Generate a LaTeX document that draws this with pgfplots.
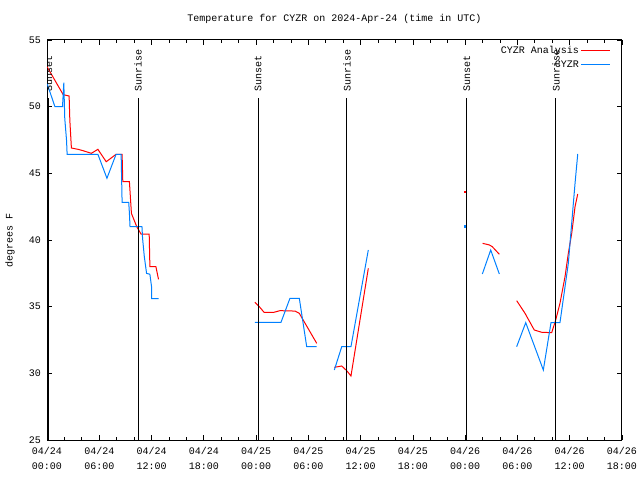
\documentclass[border=0pt]{standalone}
\usepackage{pgfplots}
\pgfplotsset{compat=1.18}
\usepackage{fontspec}
\setmainfont{Liberation Mono}
\definecolor{gpred}{RGB}{255,0,0}
\definecolor{gpblue}{RGB}{0,128,255}
\begin{document}
\begin{tikzpicture}[x=1pt,y=1pt]
\useasboundingbox (0,0) rectangle (640,480);
\begin{axis}[
  at={(47pt,40pt)}, anchor=south west,
  scale only axis, width=575pt, height=400pt,
  xmin=0, xmax=66, ymin=25, ymax=55,
  xtick={0,6,...,66},
  xticklabels={{04/24\\00:00},{04/24\\06:00},{04/24\\12:00},{04/24\\18:00},{04/25\\00:00},{04/25\\06:00},{04/25\\12:00},{04/25\\18:00},{04/26\\00:00},{04/26\\06:00},{04/26\\12:00},{04/26\\18:00}},
  minor x tick num=2,
  ytick={25,30,...,55},
  tick align=inside,
  major tick length=5pt, minor tick length=3pt,
  tick style={black, line width=0.8pt},
  axis line style={line width=1pt},
  xticklabel style={align=center, font=\fontsize{10}{14.5}\selectfont, inner sep=0pt, yshift=-7.5pt},
  yticklabel style={font=\fontsize{10}{12}\selectfont, inner sep=0pt, xshift=-6pt},
  /pgf/number format/assume math mode=true,
  unbounded coords=jump,
  legend style={at={(1,1)}, anchor=north east, draw=none, fill=none, xshift=-11pt, yshift=-4pt, font=\fontsize{10}{12}\selectfont, row sep=1.5pt, inner sep=0pt},
  legend cell align=right,
  legend plot pos=right,
  legend image code/.code={\draw[#1] (3pt,0pt) -- (32pt,0pt);},
]
\addplot[gpred, line width=1pt] coordinates {
(0,53.0) (1.86,50.9) (2.54,50.8) (2.62,49.0) (2.80,46.9) (3.57,46.8) (4.13,46.7) (5.09,46.5) (5.84,46.8) (6.80,45.87) (7.93,46.43) (8.62,46.43) (8.70,44.37) (9.46,44.37) (9.69,42.0) (10.30,41.0) (10.79,40.45) (11.73,40.45) (11.81,38.0) (12.50,38.0) (12.80,37.05)
(12.9,nan)
(23.87,35.33) (24.37,35.0) (24.91,34.58) (26.06,34.58) (26.74,34.7) (28.47,34.67) (28.96,34.5) (30.96,32.25)
(31.5,nan)
(32.98,30.45) (33.83,30.55) (34.40,30.2) (34.89,29.8) (36.88,37.87)
(40,nan)
(50.0,39.75) (50.77,39.63) (51.11,39.5) (51.92,38.93)
(52.5,nan)
(53.91,35.45) (54.87,34.5) (55.93,33.25) (56.78,33.08) (57.93,33.05) (58.39,34.0) (58.88,35.25) (59.46,37.25) (59.84,39.0) (60.23,40.5) (60.61,42.5) (60.92,43.45)
};
\addlegendentry{CYZR Analysis}
\addplot[gpblue, line width=1pt] coordinates {
(0,51.75) (0.91,50.0) (1.78,50.0) (1.93,51.8) (2.04,49.1) (2.24,47.5) (2.31,46.43) (5.84,46.43) (6.88,44.63) (7.93,46.43) (8.51,46.43) (8.62,42.83) (9.38,42.83) (9.46,42.0) (9.53,41.0) (10.90,41.0) (10.97,40.13) (11.17,38.75) (11.43,37.5) (11.81,37.43) (12.0,36.5) (12.0,35.6) (12.80,35.6)
(12.9,nan)
(23.87,33.83) (26.86,33.83) (27.89,35.63) (28.96,35.63) (29.81,32.0) (30.96,32.0)
(31.5,nan)
(32.98,30.25) (33.83,32.0) (34.89,32.0) (36.88,39.25)
(40,nan)
(49.97,37.45) (50.93,39.25) (51.92,37.45)
(52.5,nan)
(53.91,32.0) (54.95,33.8) (56.97,30.25) (57.85,33.8) (58.88,33.8) (59.84,38.25) (60.61,44.25) (60.92,46.45)
};
\addlegendentry{CYZR}
\addplot[gpred, only marks, mark=square*, mark size=0.6pt, forget plot] coordinates {(47.9,43.65)};
\addplot[gpblue, only marks, mark=square*, mark size=0.6pt, forget plot] coordinates {(47.9,41.03)};
\draw[black, line width=1pt] (axis cs:0.2,25) -- (axis cs:0.2,50.65);
\draw[black, line width=1pt] (axis cs:10.45,25) -- (axis cs:10.45,50.65);
\draw[black, line width=1pt] (axis cs:24.22,25) -- (axis cs:24.22,50.65);
\draw[black, line width=1pt] (axis cs:34.43,25) -- (axis cs:34.43,50.65);
\draw[black, line width=1pt] (axis cs:48.2,25) -- (axis cs:48.2,50.65);
\draw[black, line width=1pt] (axis cs:58.42,25) -- (axis cs:58.42,50.65);
\node[rotate=90, anchor=west, inner sep=0pt, font=\fontsize{10}{12}\selectfont] at (axis cs:0.2,51.1) {Sunset};
\node[rotate=90, anchor=west, inner sep=0pt, font=\fontsize{10}{12}\selectfont] at (axis cs:10.45,51.1) {Sunrise};
\node[rotate=90, anchor=west, inner sep=0pt, font=\fontsize{10}{12}\selectfont] at (axis cs:24.22,51.1) {Sunset};
\node[rotate=90, anchor=west, inner sep=0pt, font=\fontsize{10}{12}\selectfont] at (axis cs:34.43,51.1) {Sunrise};
\node[rotate=90, anchor=west, inner sep=0pt, font=\fontsize{10}{12}\selectfont] at (axis cs:48.2,51.1) {Sunset};
\node[rotate=90, anchor=west, inner sep=0pt, font=\fontsize{10}{12}\selectfont] at (axis cs:58.42,51.1) {Sunrise};
\end{axis}
\node[font=\fontsize{10}{12}\selectfont] at (334.5,461) {Temperature for CYZR on 2024-Apr-24 (time in UTC)};
\node[rotate=90, font=\fontsize{10}{12}\selectfont] at (10,240) {degrees F};
\end{tikzpicture}
\end{document}
